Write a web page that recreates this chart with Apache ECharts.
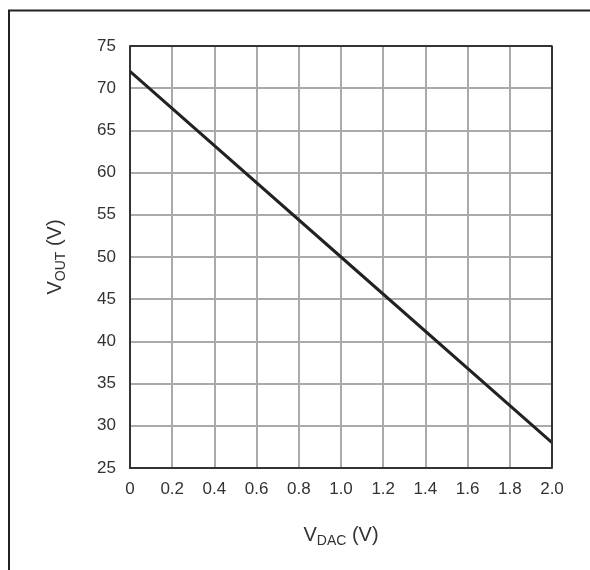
<!DOCTYPE html>
<html>
<head>
<meta charset="utf-8">
<script src="https://cdn.jsdelivr.net/npm/echarts@6/dist/echarts.min.js"></script>
<style>
  html, body { margin: 0; padding: 0; background: #fff; }
  #main { width: 590px; height: 570px; }
</style>
</head>
<body>
<div id="main"></div>
<script>
// data
var vdac = [0, 1.0, 2.0]
var vout = [72, 50, 28]
var xTicks = { min: 0, max: 2, step: 0.2 }
var yTicks = { min: 25, max: 75, step: 5 }

var lineData = []
for (var i = 0; i < vdac.length; i++) {
    lineData.push([vdac[i], vout[i]])
}

var font = 'Liberation Sans, Arial, sans-serif'
var nameRich = {
    m: { fontSize: 20, fontFamily: font, color: '#333', lineHeight: 26 },
    s: { fontSize: 14, fontFamily: font, color: '#333', lineHeight: 14, verticalAlign: 'bottom' }
}

var myChart = echarts.init(document.getElementById('main'))
var option = {
    backgroundColor: '#fff',
    animation: false,
    grid: { left: 130, top: 46, width: 422, height: 422 },
    graphic: [{
        type: 'polyline',
        shape: { points: [[9, 570], [9, 10.5], [590, 10.5]] },
        style: { stroke: '#222', lineWidth: 2, fill: null }
    }],
    xAxis: {
        type: 'value',
        min: xTicks.min,
        max: xTicks.max,
        interval: xTicks.step,
        name: '{m|V}{s|DAC}{m| (V)}',
        nameLocation: 'middle',
        nameGap: 54,
        nameTextStyle: { rich: nameRich },
        axisLine: { show: true, lineStyle: { color: '#333', width: 2 } },
        axisTick: { show: false },
        axisLabel: {
            margin: 13,
            fontSize: 17,
            fontFamily: font,
            color: '#333',
            formatter: function (v) { return v === 0 ? '0' : v.toFixed(1) }
        },
        splitLine: { show: true, lineStyle: { color: '#aaa', width: 2 } }
    },
    yAxis: {
        type: 'value',
        min: yTicks.min,
        max: yTicks.max,
        interval: yTicks.step,
        name: '{m|V}{s|OUT}{m| (V)}',
        nameLocation: 'middle',
        nameRotate: 90,
        nameGap: 62,
        nameTextStyle: { rich: nameRich },
        axisLine: { show: true, lineStyle: { color: '#333', width: 2 } },
        axisTick: { show: false },
        axisLabel: { margin: 14, fontSize: 17, fontFamily: font, color: '#333' },
        splitLine: { show: true, lineStyle: { color: '#aaa', width: 2 } }
    },
    series: [{
        type: 'line',
        data: lineData,
        symbol: 'none',
        lineStyle: { color: '#222', width: 3 }
    }, {
        // frame top and right sides of the plot
        type: 'line',
        data: [[0, 75], [2, 75], [2, 25]],
        symbol: 'none',
        silent: true,
        lineStyle: { color: '#333', width: 2 }
    }]
}
myChart.setOption(option)
window.onresize = myChart.resize
</script>
</body>
</html>
